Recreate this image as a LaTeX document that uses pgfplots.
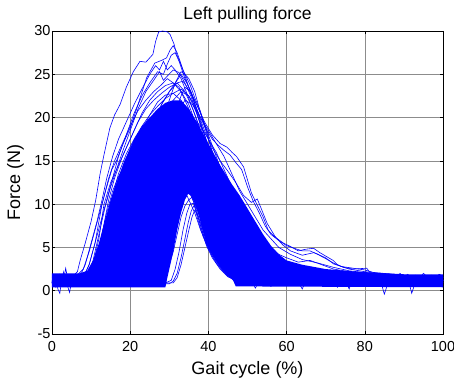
\documentclass[border=0pt]{standalone}
\usepackage{fontspec}
\setmainfont{Liberation Sans}
\usepackage{pgfplots}
\pgfplotsset{compat=1.18}
\begin{document}
\begin{tikzpicture}
\useasboundingbox (-52pt,-49pt) rectangle (402pt,334pt);
\begin{axis}[
  at={(0,0)}, anchor=south west,
  scale only axis, width=391pt, height=303pt,
  xmin=0, xmax=100, ymin=-5, ymax=30,
  xtick={0,20,40,60,80,100}, ytick={-5,0,5,10,15,20,25,30},
  grid=major, major grid style={black!45, line width=0.6pt},
  tick align=inside, major tick length=3.5pt,
  axis line style={black, line width=0.7pt},
  tick style={black, line width=0.6pt},
  /pgf/number format/assume math mode=true,
  ticklabel style={font=\fontsize{14.5}{16}\selectfont},
  xticklabel style={yshift=-4pt},
  yticklabel style={xshift=2pt},
  every axis title shift=0pt,
  title={Left pulling force},
  title style={font=\fontsize{17.5}{20}\selectfont, at={(axis description cs:0.5,1.0386)}, anchor=base, inner sep=0pt},
  xlabel={Gait cycle (\%)},
  xlabel style={font=\fontsize{18}{20}\selectfont, at={(axis description cs:0.5,-0.132)}, anchor=base, inner sep=0pt},
  ylabel={Force (N)},
  ylabel style={font=\fontsize{18}{20}\selectfont, at={(axis description cs:-0.1151,0.5)}, anchor=north, inner sep=0pt},
  every axis plot post/.append style={blue, mark=none, line width=0.6pt, solid},
  clip=true,
]
% dense core region
\addplot[fill=blue, draw=none] coordinates {
(0,0.4)(0,2.0)(7,2.0)(9,2.3)(10.5,3.5)(12,5.5)(13.5,8)(15,10.5)(16.5,12.5)(18.5,15)(21,17.5)(23,19)(25,20)(27,21)(29,21.7)(31,22)(33,22)(35,21)(37,19.5)(40,17)(43,14.5)(46,12.3)(48,11)(50,9.5)(52,8)(54,6.5)(56,5.2)(58,4.2)(60,3.5)(64,3)(70,2.5)(78,2.2)(90,1.9)(100,1.9)(100,0.4)(47,0.5)(46.3,1.2)(44.5,2)(43,2.8)(41,4.1)(39.6,5.3)(38.5,7)(37.6,8.6)(36.9,9.6)(36.2,10.4)(35.5,11)(34.8,11.2)(34,10.5)(33,9)(32,7)(31,4.5)(30,2.5)(29.5,1.5)(29,0.4)
} -- cycle;
% baseline noise
\addplot coordinates {(0,1.2)(1,0.4)(2,1.5)(3,0.9)(4,1.8)(5,0.7)(6,1.3)(7,0.9)(8,1.5)(9,0.6)(10,1.2)(11,0.8)(12,1.4)(13,0.7)(14,1.1)(15,0.9)(16,1.3)(17,0.6)(18,1.0)(19,1.2)(20,0.8)(21,1.1)(22,0.7)(23,1.0)(24,0.9)(25,1.2)(26,0.8)(27,1.0)(28,0.7)(29,1.1)};
\addplot coordinates {(47,1.1)(48,0.9)(49,1.3)(50,1.0)(51,1.2)(52,0.3)(53,1.1)(54,0.8)(55,1.3)(56,1.0)(57,0.7)(58,1.2)(59,0.9)(60,1.1)(61,0.8)(62,1.3)(63,1.0)(64,0.2)(65,1.2)(66,0.9)(67,1.4)(68,0.8)(69,1.1)(70,0.9)(71,1.3)(72,1.0)(73,0.4)(74,1.2)(75,0.9)(76,1.4)(77,1.0)(78,0.8)(79,1.3)(80,1.1)(81,0.9)(82,1.4)(83,0.8)(84,1.2)(85,-0.4)(86,1.0)(87,1.3)(88,0.7)(89,1.2)(90,1.0)(91,1.5)(92,-0.3)(93,1.1)(94,0.8)(95,1.4)(96,1.0)(97,1.6)(98,0.9)(99,1.3)(100,1.1)};
\addplot coordinates {(0,0.8)(0.5,1.6)(1,1.5)(1.5,0.2)(2,-0.3)(2.5,1.4)(3,2.2)(3.5,0.8)(4,0.5)(4.5,-0.2)(5,1.1)(6,0.6)(7,1.4)(8,0.8)(9,1.2)(10,0.5)(11,1.0)(12,0.9)(13,0.6)(14,1.2)(15,0.7)(16,0.9)(17,1.1)(18,0.7)(19,0.9)(20,0.6)(21,0.9)(22,1.0)(23,0.6)(24,0.8)(25,0.7)(26,1.0)(27,0.6)(28,0.9)(29,0.7)};
\addplot coordinates {(47,0.7)(48,1.2)(49,0.8)(50,1.4)(51,0.9)(52,1.1)(53,0.7)(54,1.2)(55,0.9)(56,0.5)(57,1.1)(58,0.8)(59,1.3)(60,0.9)(61,1.2)(62,0.7)(63,1.4)(64,1.0)(65,0.8)(66,1.3)(67,0.9)(68,1.2)(69,0.6)(70,1.3)(71,0.8)(72,1.2)(73,1.5)(74,0.9)(75,1.3)(76,0.2)(77,1.6)(78,1.1)(79,0.9)(80,1.5)(81,1.2)(82,0.9)(83,1.5)(84,1.0)(85,1.3)(86,0.7)(87,1.5)(88,1.1)(89,0.8)(90,1.6)(91,1.0)(92,1.3)(93,0.7)(94,1.5)(95,1.0)(96,1.7)(97,1.1)(98,1.5)(99,0.8)(100,1.6)};
\addplot coordinates {(0,1.6)(1,1.0)(2,1.9)(3,1.3)(3.5,2.6)(4,1.4)(5,1.2)(6,1.7)(7,1.4)(8,2.0)(9,1.5)(10,1.8)(11,1.3)(12,2.0)};
\addplot coordinates {(55,1.8)(56,1.4)(57,2.0)(58,1.6)(59,1.9)(60,1.5)(61,2.1)(62,1.7)(63,1.4)(64,1.9)(65,1.6)(66,2.0)(67,1.5)(68,1.8)(69,1.4)(70,1.9)(71,1.6)(72,2.0)(73,1.5)(74,1.8)(75,1.4)(76,1.9)(77,1.7)(78,2.1)(79,1.5)(80,1.8)(81,1.6)(82,2.0)(83,1.4)(84,1.9)(85,1.6)(86,1.3)(87,1.8)(88,1.5)(89,2.0)(90,1.6)(91,1.9)(92,1.4)(93,1.8)(94,1.5)(95,2.0)(96,1.6)(97,1.8)(98,1.4)(99,1.9)(100,1.7)};
% outer curves: top / left
\addplot coordinates {(0,1.2)(5,1.5)(6.5,2.2)(7.2,3.5)(8.5,5.5)(10,8)(11.2,10.5)(12.3,13.5)(13.2,15.5)(14.8,18.8)(16,20.3)(17.4,21.5)(19,23.5)(20.8,25.3)(22.5,26.5)(24,26.4)(25.8,27.3)(26.5,28.8)(27.3,29.9)(28.3,30)(29.5,29.9)(30.2,29.6)(31.2,28.5)(31.9,27.3)(33.5,25.5)(35.3,23.8)(36.5,22.3)(37.9,20.8)(39.5,18.5)(41,16)(43,13)(45,10)(47,7.5)(49,5.3)(51,3.5)(53,2.2)(56,1.6)(60,1.3)(100,1.2)};
\addplot coordinates {(0,1)(6,1.6)(8,2.5)(9.5,4.5)(11,7)(12.5,9.5)(14,12)(15.3,14)(16.5,15)(18,16.8)(20,18.8)(22,21.5)(24.2,24.6)(26.3,26.3)(28,26.6)(29.3,26.9)(30.2,27.8)(31,28.3)(32,27.5)(33.5,25.5)(35,23.5)(36.5,21.5)(38,19)(40,16)(42,13)(44,10.5)(46,8)(48,5.8)(50,3.8)(52,2.5)(55,1.7)(60,1.3)(100,1.2)};
\addplot coordinates {(0,1)(8,1.5)(9.5,3)(11,5.5)(12.5,8)(14,10.5)(15.5,13)(17,15.5)(19,18)(21,20.5)(23,22.5)(25,24)(27,25.3)(28.5,25)(29.5,26.2)(30.5,27.2)(31.5,27.5)(32.5,26.5)(34,24.5)(35.5,23)(37,21)(39,18)(41,15)(43,12)(45,9)(47,6.5)(49,4.5)(51,3)(54,1.8)(60,1.4)(100,1.2)};
\addplot coordinates {(0,1)(7,1.5)(8.5,3)(10,5.5)(11.5,8)(12.8,10.5)(14,13)(15.5,15.5)(17,17.5)(19,19.5)(21,21.5)(23,23.3)(25,25)(26.5,26)(27.5,25.5)(28.5,26.5)(29.5,25.5)(30.5,26)(31.5,25.5)(33,24.5)(34.5,22.8)(36,21)(38,18.5)(40,16)(42,13.5)(44,11)(46,8.5)(48,6)(50,4)(52,2.5)(56,1.6)(100,1.2)};
\addplot coordinates {(0,1)(9,1.5)(10.5,3.5)(12,6.5)(13.5,9.5)(15,12)(16.5,14)(18,16)(20,18.5)(22,21)(24,23)(26,24.3)(27.5,25.3)(28.5,24.3)(29.5,24.8)(31,25.5)(32.5,25.2)(34,24)(35.5,22.5)(37,20.5)(39,18)(41,15)(43,12.5)(45,10)(47,7.5)(49,5.5)(51,3.5)(53,2.2)(57,1.5)(100,1.2)};
\addplot coordinates {(0,1)(8,1.6)(9.5,3)(11,5.5)(12.8,10)(14.5,13)(16,15)(18,17)(20,19)(22,20.8)(24,22)(26,23)(28,23.8)(29.5,24.5)(31,24)(33,23)(35,21.5)(37,19)(39,16)(41,13)(43,10)(45,7.5)(47,5.5)(49,3.5)(51,2.2)(55,1.5)(100,1.2)};
\addplot coordinates {(0,1)(9,1.5)(10.5,3)(12,6)(13.3,10)(15,12.5)(17,14.5)(19,16.5)(21,18.5)(23,20.5)(25,22)(27,23)(29,23.7)(31,24)(32.5,23.5)(34,22)(36,20)(38,17.5)(40,15)(42,12.5)(44,10)(46,7.5)(48,5.5)(50,3.8)(52,2.5)(56,1.6)(100,1.2)};
\addplot coordinates {(0,1)(10,1.5)(11.5,3.5)(13,7)(14.5,10.5)(16,13)(18,15.5)(20,17.5)(22,19.5)(24,21)(26,22)(28,22.8)(30,23.5)(32,24)(34,23)(36,21)(38,18.5)(40,16)(42,13.5)(44,11)(46,8.5)(48,6.5)(50,4.5)(52,3)(55,1.8)(100,1.2)};
\addplot coordinates {(0,1)(11,1.4)(12.5,4)(14,7.5)(15.5,11)(17,13.5)(19,15.8)(21,17.5)(23,19)(25,20.3)(27,21.3)(29,22.2)(31,22.8)(33,23.3)(35,22.5)(37,20.5)(39,18)(41,15.5)(43,13)(45,10.5)(47,8)(49,6)(51,4.2)(53,2.8)(56,1.7)(100,1.2)};
\addplot coordinates {(0,1)(9.5,1.6)(11,3.2)(12.5,6)(14,9)(15.5,11.5)(17,13.2)(19,14.8)(21,16.5)(23,18.5)(25,20.3)(27,21.8)(29,22.6)(31,22.8)(33,22)(35,20.5)(37,18.5)(39,16)(41,13.5)(43,11)(45,8.5)(47,6.5)(49,4.5)(51,3)(54,1.8)(100,1.2)};
\addplot coordinates {(0,1)(16,1.4)(18,3)(20,6)(22,9.5)(24,13)(26,16.5)(28,19.5)(30,22)(31.5,24)(33,25.3)(34,25)(35,24.5)(36.5,23)(38,20.5)(40,17.5)(42,14.5)(44,11.5)(46,9)(48,7)(50,5)(52,3.5)(55,2.2)(60,1.5)(100,1.2)};
\addplot coordinates {(0,1)(14,1.3)(16,3)(18,6)(20,9)(22,12.5)(24,16)(26,19)(28,21.5)(30,23)(32,24.3)(33,25)(34.5,24)(36,22.5)(38,20.5)(40,18)(42,15.5)(44,13)(46,10.5)(48,8)(50,6)(52,4.5)(54,3.3)(57,2.2)(62,1.6)(100,1.3)};
% outer curves: right side with tails
\addplot coordinates {(0,1)(14,1.4)(16,3)(18,6)(20,9.5)(22,13)(24,16)(26,19)(28,21.5)(30,23)(32,24)(33.5,24.2)(35,23.2)(37,21.5)(39,19.5)(41,18)(43,17)(44.7,16.6)(46,16)(47.2,15.5)(49,14.3)(50,12.8)(51,11.3)(52.7,9.7)(54,8.5)(55.3,7)(57,6.2)(59.2,5.5)(61,5.1)(63,4.6)(65,4.8)(66.9,4.9)(68.5,4.4)(70,4)(71.9,3.5)(73,3)(74.5,2.7)(77,2.5)(80.5,2.6)(81.5,2)(85,1.8)(90,1.6)(100,1.5)};
\addplot coordinates {(0,1)(15,1.3)(17,3)(19,6)(21,9)(23,12)(25,15)(27,18)(29,20.5)(31,22)(33,23)(35,22.5)(37,21)(39,19)(41,17.5)(42.5,16.8)(44,16.2)(45.5,15.7)(47,14.8)(48.5,14)(50,12)(51.5,10.3)(53,9)(54.5,7.5)(56,6.5)(58,5.8)(60,5.2)(62,4.9)(64,4.6)(66,4.6)(68,4.2)(70,3.7)(72,3.2)(74,2.8)(77,2.6)(80,2.4)(83,2)(88,1.7)(100,1.5)};
\addplot coordinates {(0,1)(17,1.3)(19,3)(21,5.5)(23,8.5)(25,11.5)(27,14.5)(29,17.5)(31,20)(33,22.5)(34,23.5)(35.5,23)(37,21)(39,18.5)(41,16.5)(43,15)(45,13.8)(47,12.5)(49,11)(51,10.2)(52.5,10.6)(53.5,9.5)(55,7.8)(57,6.3)(59,5.3)(61,4.6)(64,4.1)(67,4.4)(70,3.8)(72,3.1)(76,2.5)(80,2.2)(90,1.8)(100,1.5)};
\addplot coordinates {(0,1)(18,1.3)(20,3)(22,6)(24,9)(26,12)(28,15)(30,18)(32,20.5)(34,22)(36,21.5)(38,20)(40,18.5)(42,17)(44,15.5)(46,13.5)(48,11.5)(50,10)(52,8.5)(54,7)(56,6)(58,5)(61,4.2)(64,3.6)(68,3.2)(72,2.7)(76,2.3)(80,2.1)(86,1.8)(100,1.5)};
\addplot coordinates {(0,1)(20,1.2)(22,3)(24,6)(26,9)(28,12)(30,15)(32,17.5)(34,19.5)(36,20)(38,19)(40,17.5)(42,16)(44,14)(46,12)(48,10.5)(50,9)(52,7.5)(54,6)(56,5)(58,4.2)(60,3.8)(63,3.3)(66,3.5)(69,3)(72,2.5)(76,2.2)(82,1.9)(100,1.6)};
% late-rising curves
\addplot coordinates {(0,1)(29,0.9)(30.5,1.2)(31.5,2.5)(32.5,4.5)(33.5,7)(34.5,9)(35.3,10)(36.2,10.1)(37,9)(38,7.5)(39.5,5.2)(41,3.8)(43,2.5)(45,1.6)(47,1.2)(100,1)};
\addplot coordinates {(0,1)(27,0.9)(28,1.5)(29,2.5)(30,4)(31,5.5)(32,7.5)(33,9.5)(33.6,10.5)(34.5,11)(35.5,10)(36.5,9)(38,7)(40,5)(42,3.5)(44,2.2)(46,1.4)(100,1)};
\addplot coordinates {(0,1)(25,0.9)(26,1.5)(27,3)(28,5)(29,7)(30,9)(31,10.5)(32,12)(33,12.8)(34,12)(35.5,11)(37,9.5)(39,7)(41,5)(43,3.3)(45,2)(47,1.3)(100,1)};
\addplot coordinates {(0,1)(28,1)(29,1.8)(30,3)(31,4.5)(32,6.5)(33,8.5)(34,9.8)(35,10.5)(35.8,10.8)(36.8,9.5)(38,7.8)(39.5,5.8)(41,4.2)(43,2.8)(45,1.8)(47,1.2)(100,1)};
\addplot coordinates {(0,1)(31,0.9)(32,1.5)(33,3)(34,5)(35,7)(35.8,8.5)(36.5,9.3)(37.2,8.8)(38.2,7.2)(39.5,5.5)(41,4)(43,2.7)(45,1.7)(47,1.1)(100,1)};
\addplot coordinates {(0,1)(30,0.8)(31,1.1)(32,2)(33,3.8)(34,6)(34.8,7.8)(35.6,9.2)(36.4,9.9)(37.3,8.2)(38.6,6.3)(40,4.8)(42,3.2)(44,2.1)(46,1.4)(100,1)};
\end{axis}
\end{tikzpicture}
\end{document}
